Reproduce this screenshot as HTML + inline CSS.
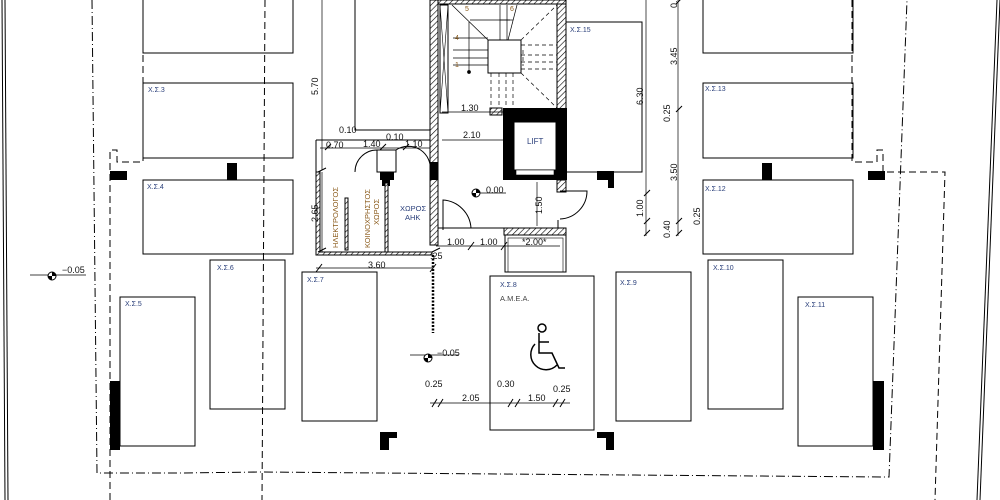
<!DOCTYPE html>
<html><head><meta charset="utf-8"><style>
html,body{margin:0;padding:0;background:#fff;width:1000px;height:500px;overflow:hidden}
svg{display:block}
text{font-family:"Liberation Sans",sans-serif}
.lb{font-size:7px;fill:#2a3f7a}
.dm{font-size:9px;fill:#111}
</style></head><body>
<svg width="1000" height="500" viewBox="0 0 1000 500" xmlns="http://www.w3.org/2000/svg">
<defs>
<pattern id="h" width="4" height="4" patternUnits="userSpaceOnUse" patternTransform="rotate(45)">
<rect width="4" height="4" fill="#fff"/><line x1="0" y1="0" x2="0" y2="4" stroke="#000" stroke-width="1.2"/></pattern>
</defs>
<g fill="none" stroke="#000" stroke-width="1">
<line x1="2" y1="0" x2="5" y2="500"/><line x1="5" y1="0" x2="8" y2="500"/>
<line x1="1000" y1="0" x2="980" y2="500"/><line x1="997" y1="0" x2="977" y2="500"/>
<g stroke-dasharray="9 3 1 3">
<polyline points="92,0 97,473 180,473 260,472 500,474 889,477 907,0"/>
</g>
<g stroke-dasharray="7 4">
<line x1="265" y1="0" x2="262" y2="500"/>
<polyline points="143,0 143,162 117,162 117,150 110,150 110,500"/>
<polyline points="852,0 852,162 877,162 877,150 883,150 883,172 945,172 935,500"/>
</g>
<rect x="143" y="-2" width="150" height="55"/>
<rect x="143" y="83" width="150" height="75"/>
<rect x="143" y="180" width="150" height="74"/>
<rect x="210" y="260" width="75" height="149"/>
<rect x="120" y="297" width="75" height="149"/>
<rect x="302" y="272" width="75" height="149"/>
<rect x="490" y="276" width="104" height="154"/>
<rect x="616" y="272" width="75" height="149"/>
<rect x="708" y="260" width="75" height="149"/>
<rect x="798" y="297" width="75" height="149"/>
<rect x="703" y="180" width="150" height="74"/>
<rect x="703" y="83" width="150" height="75"/>
<rect x="703" y="-2" width="150" height="55"/>
<rect x="566" y="22" width="76" height="150"/>
<rect x="355" y="-2" width="77" height="132"/>
</g>
<g fill="#000">
<rect x="110" y="171" width="17" height="9"/>
<rect x="227" y="163" width="10" height="17"/>
<rect x="110" y="381" width="10" height="69"/>
<rect x="873" y="381" width="11" height="69"/>
<rect x="762" y="163" width="10" height="17"/>
<rect x="868" y="171" width="17" height="9"/>
<path d="M597,171h17v17h-6v-8h-11z"/>
<path d="M380,432h17v6h-8v12h-9z"/>
<path d="M597,432h17v18h-8v-12h-9z"/>
<rect x="380" y="172" width="14" height="8"/>
<rect x="382" y="172" width="8" height="14"/>
<rect x="430" y="165" width="8" height="15"/>
</g>
<g stroke="#000" stroke-width="1" fill="url(#h)">
<rect x="430" y="0" width="8" height="245"/>
<rect x="557" y="0" width="9" height="110"/>
<rect x="438" y="0" width="128" height="4"/>
<rect x="490" y="108" width="12" height="7"/>
<rect x="557" y="180" width="9" height="12"/>
<rect x="504" y="228" width="62" height="7"/>
<path d="M316,172h4v80h112v3h-116z"/>
<rect x="345" y="198" width="3" height="52"/>
<rect x="385" y="183" width="3" height="69"/>
</g>
<rect x="430" y="162" width="8" height="18" fill="#000"/>
<rect x="503" y="108" width="64" height="72" fill="#000"/>
<rect x="514" y="122" width="42" height="48" fill="#fff" stroke="#000"/>
<rect x="516" y="170" width="38" height="5" fill="#fff" stroke="#000" stroke-width=".6"/>
<text x="527" y="144" style="font-size:8px;fill:#2a3f7a">LIFT</text>
<g fill="none" stroke="#000" stroke-width="1">
<rect x="440" y="5" width="8" height="108"/>
<line x1="440" y1="5" x2="448" y2="113" stroke-width=".6"/>
<line x1="448" y1="5" x2="440" y2="113" stroke-width=".6"/>
<rect x="488" y="40" width="33" height="33"/>
<g stroke-width=".7">
<line x1="452" y1="5" x2="488" y2="40"/>
<line x1="453" y1="38" x2="488" y2="38"/><line x1="453" y1="50" x2="488" y2="50"/>
<line x1="453" y1="58" x2="488" y2="58"/><line x1="453" y1="65" x2="488" y2="65"/>
<line x1="469" y1="22" x2="469" y2="72"/><circle cx="469" cy="72" r="1.5" fill="#000"/>
<line x1="500" y1="5" x2="500" y2="40"/><line x1="507" y1="5" x2="507" y2="40"/>
<line x1="470" y1="20" x2="510" y2="20"/><line x1="500" y1="20" x2="513" y2="20"/>
<line x1="517" y1="5" x2="508" y2="40"/>
</g>
<g stroke-dasharray="4 3" stroke-width=".7">
<line x1="521" y1="40" x2="557" y2="5"/><line x1="521" y1="73" x2="557" y2="108"/>
<line x1="521" y1="45" x2="557" y2="45"/><line x1="521" y1="55" x2="557" y2="55"/>
<line x1="521" y1="62" x2="557" y2="62"/><line x1="521" y1="69" x2="557" y2="69"/>
<line x1="491" y1="73" x2="491" y2="108"/><line x1="499" y1="73" x2="499" y2="108"/>
<line x1="506" y1="73" x2="506" y2="108"/><line x1="513" y1="73" x2="513" y2="108"/>
<line x1="523" y1="50" x2="523" y2="66"/>
</g>
<line x1="438" y1="180" x2="438" y2="228"/>
<line x1="438" y1="228" x2="504" y2="228"/>
<path d="M443,230 V200 A30,30 0 0 1 471,228"/>
<path d="M560,191 H587 A28,28 0 0 1 560,219"/>
<line x1="558" y1="220" x2="558" y2="228"/>
<path d="M355,172 A22,22 0 0 1 377,150 V172"/>
<path d="M377,150 H396 A22,22 0 0 1 430,172" />
<rect x="377" y="150" width="19" height="22"/>
<line x1="316" y1="140" x2="430" y2="140"/>
<line x1="316" y1="140" x2="316" y2="172"/>
<rect x="505" y="235" width="61" height="37"/>
<rect x="508" y="238" width="55" height="34" stroke-width=".6"/>
<line x1="433" y1="255" x2="433" y2="333" stroke-width="2.5" stroke-dasharray="2 1.5"/>
<g stroke-width=".7">
<line x1="322" y1="0" x2="322" y2="170"/>
<line x1="322" y1="172" x2="322" y2="252"/>
<line x1="316" y1="268" x2="432" y2="268"/>
<line x1="320" y1="148" x2="430" y2="148"/>
<line x1="442" y1="112" x2="503" y2="112"/>
<line x1="442" y1="140" x2="503" y2="140"/>
<line x1="436" y1="246" x2="560" y2="246"/>
<line x1="537" y1="182" x2="537" y2="226"/>
<line x1="646" y1="0" x2="646" y2="236"/>
<line x1="678" y1="0" x2="678" y2="236"/>
<line x1="430" y1="403" x2="570" y2="403"/>
<line x1="410" y1="355" x2="459" y2="355"/>
<line x1="30" y1="275" x2="86" y2="275"/>
</g>
<g stroke-width="1">
<path d="M318,172l8,-4M318,252l8,-4M432,252l8,-4M316,272l6,-8M430,272l6,-8M468,250l6,-8M501,250l6,-8M644,196l6,-6M644,224l6,-6M644,236l6,-6M676,112l6,-6M676,224l6,-6M676,236l6,-6M676,4l6,-6M432,407l5,-8M438,407l5,-8M508,407l5,-8M515,407l5,-8M553,407l5,-8M560,407l5,-8M325,150l6,-6M380,150l6,-6M403,150l6,-6"/>
</g>
</g>
<g>
<circle cx="52" cy="276" r="4" fill="#fff" stroke="#000"/><path d="M52,272 A4,4 0 0 1 56,276 H52Z M52,280 A4,4 0 0 1 48,276 H52Z" fill="#000"/>
<circle cx="428" cy="358" r="4" fill="#fff" stroke="#000"/><path d="M428,354 A4,4 0 0 1 432,358 H428Z M428,362 A4,4 0 0 1 424,358 H428Z" fill="#000"/>
<circle cx="476" cy="193" r="4" fill="#fff" stroke="#000"/><path d="M476,189 A4,4 0 0 1 480,193 H476Z M476,197 A4,4 0 0 1 472,193 H476Z" fill="#000"/>
<line x1="480" y1="193" x2="506" y2="193" stroke="#000" stroke-width=".7"/>
</g>
<g fill="none" stroke="#000" stroke-width="1.5">
<circle cx="542" cy="328" r="4"/>
<path d="M539,333 v20 h13 l7,15 h6"/>
<path d="M539,342 h10"/>
<path d="M535,344 A15,15 0 1 0 557,365"/>
</g>
<text class="lb" x="148" y="92">X.Σ.3</text>
<text class="lb" x="147" y="189">X.Σ.4</text>
<text class="lb" x="125" y="306">X.Σ.5</text>
<text class="lb" x="217" y="270">X.Σ.6</text>
<text class="lb" x="307" y="282">X.Σ.7</text>
<text class="lb" x="500" y="287">X.Σ.8</text>
<text class="lb" x="500" y="301" style="font-size:7.5px;fill:#444">A.M.E.A.</text>
<text class="lb" x="620" y="285">X.Σ.9</text>
<text class="lb" x="713" y="270">X.Σ.10</text>
<text class="lb" x="805" y="307">X.Σ.11</text>
<text class="lb" x="705" y="191">X.Σ.12</text>
<text class="lb" x="705" y="91">X.Σ.13</text>
<text class="lb" x="570" y="32">X.Σ.15</text>
<g class="dm">
<text x="339" y="133">0.10</text><text x="326" y="148">0.70</text><text x="363" y="147">1.40</text>
<text x="386" y="140">0.10</text><text x="405" y="147">1.10</text>
<text x="461" y="111">1.30</text><text x="463" y="138">2.10</text>
<text x="486" y="193">0.00</text>
<text x="447" y="245">1.00</text><text x="480" y="245">1.00</text><text x="522" y="245">*2.00*</text>
<text x="430" y="259">.25</text><text x="368" y="268">3.60</text>
<text x="62" y="273">−0.05</text><text x="437" y="356">−0.05</text>
<text x="425" y="387">0.25</text><text x="497" y="387">0.30</text><text x="553" y="392">0.25</text>
<text x="462" y="401">2.05</text><text x="528" y="401">1.50</text>
<text transform="translate(318,95) rotate(-90)">5.70</text>
<text transform="translate(318,222) rotate(-90)">2.65</text>
<text transform="translate(542,214) rotate(-90)">1.50</text>
<text transform="translate(643,105) rotate(-90)">6.30</text>
<text transform="translate(643,217) rotate(-90)">1.00</text>
<text transform="translate(677,8) rotate(-90)">0.</text>
<text transform="translate(677,65) rotate(-90)">3.45</text>
<text transform="translate(670,122) rotate(-90)">0.25</text>
<text transform="translate(677,181) rotate(-90)">3.50</text>
<text transform="translate(670,238) rotate(-90)">0.40</text>
<text transform="translate(700,225) rotate(-90)">0.25</text>
</g>
<text x="465" y="11" style="font-size:7px;fill:#8a5a1a">5</text>
<text x="510" y="11" style="font-size:7px;fill:#8a5a1a">6</text>
<text x="455" y="40" style="font-size:7px;fill:#8a5a1a">4</text>
<text x="455" y="67" style="font-size:7px;fill:#8a5a1a">1</text>
<g style="font-size:7.5px;fill:#8a5a1a">
<text transform="translate(338,248) rotate(-90)">ΗΛΕΚΤΡΟΛΟΓΟΣ</text>
<text transform="translate(370,248) rotate(-90)">ΚΟΙΝΟΧΡΗΣΤΟΣ</text>
<text transform="translate(379,225) rotate(-90)">ΧΩΡΟΣ</text>
</g>
<text x="400" y="211" style="font-size:7.5px;fill:#2a3f7a">ΧΩΡΟΣ</text>
<text x="405" y="220" style="font-size:7.5px;fill:#2a3f7a">ΑΗΚ</text>
</svg>
</body></html>
